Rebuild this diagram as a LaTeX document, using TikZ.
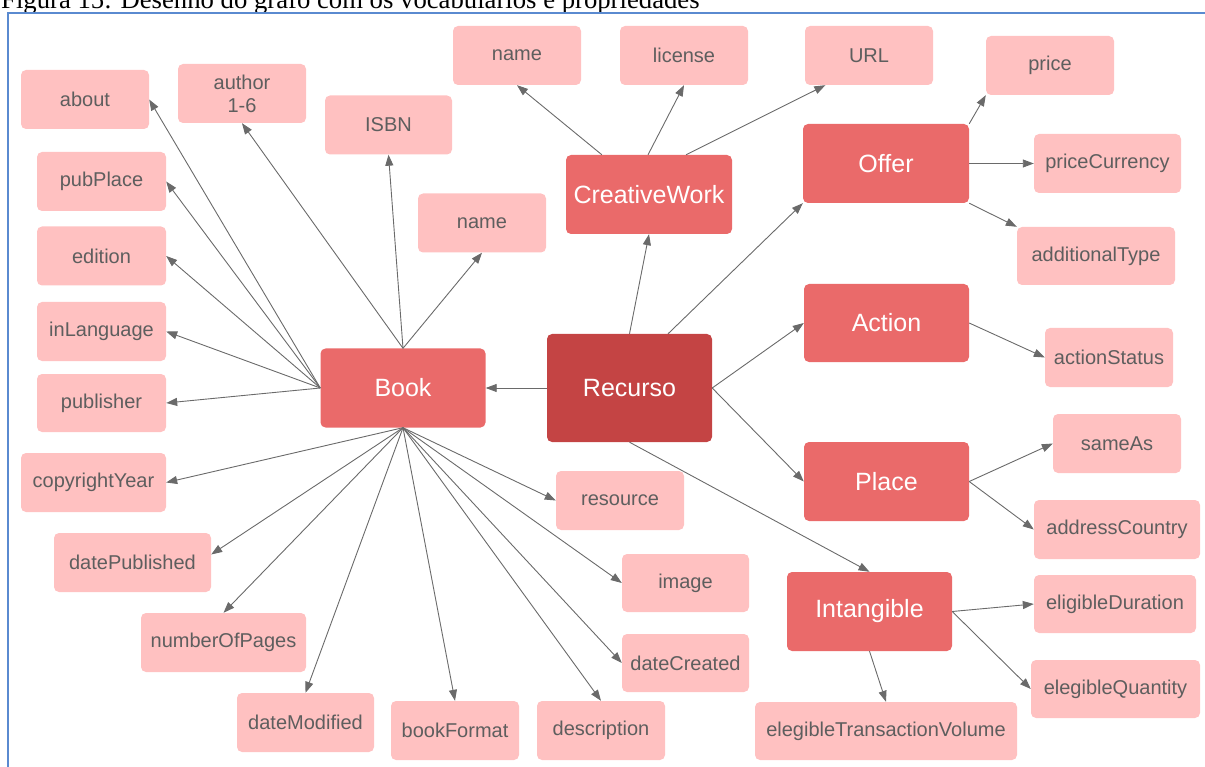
\documentclass[tikz,border=0pt]{standalone}
\usepackage{fontspec}
\setmainfont{Liberation Sans}
\newfontfamily\capfont{Liberation Serif}
\usetikzlibrary{arrows.meta,calc}
\definecolor{lightfill}{HTML}{FFC1C1}
\definecolor{darkfill}{HTML}{EA6A6A}
\definecolor{rootfill}{HTML}{C44444}
\definecolor{lighttext}{HTML}{5E5E5E}
\definecolor{edgecol}{HTML}{6A6A6A}
\definecolor{framecol}{HTML}{5A8AD0}
\tikzset{
  leafbox/.style={draw=none,fill=lightfill,rounded corners=5pt,minimum height=59pt,inner sep=0pt,
    text=lighttext,font=\fontsize{20}{23}\selectfont,align=center},
  classbox/.style={draw=none,fill=darkfill,rounded corners=5pt,minimum height=79pt,minimum width=165pt,inner sep=0pt,
    text=white,font=\fontsize{25}{28}\selectfont},
  rootbox/.style={classbox,fill=rootfill,minimum height=108pt},
  edge/.style={draw=edgecol,line width=0.9pt,-{Triangle[length=11pt,width=8pt]}}
}
\begin{document}
\begin{tikzpicture}[x=1pt,y=-1pt]
\useasboundingbox (0,0) rectangle (1205,767);
\begin{scope}
\clip (0,0) rectangle (1205,767);
\node[anchor=base west,inner sep=0pt,font=\capfont\fontsize{26.7}{30}\selectfont] (caption) at (1,9) {Figura 15: Desenho do grafo com os vocabulários e propriedades};
\draw[framecol,line width=1.6pt] (8,13) rectangle (1220,790);
\end{scope}

% class nodes
\node[classbox] (book) at (403,388) {Book};
\node[rootbox] (rec) at (629.5,388) {Recurso};
\node[classbox,minimum width=166pt] (cw) at (649,194.5) {CreativeWork};
\node[classbox,minimum width=166pt] (offer) at (886,163.5) {Offer};
\node[classbox,minimum height=78pt] (action) at (886.5,323) {Action};
\node[classbox] (place) at (886.5,481.5) {Place};
\node[classbox] (intang) at (869.5,611.5) {Intangible};

% leaf nodes
\node[leafbox,minimum width=128pt] (about) at (85,99.5) {about};
\node[leafbox,minimum width=128pt] (author) at (242,93.5) {author\\1-6};
\node[leafbox,minimum width=127pt] (isbn) at (388.5,125) {ISBN};
\node[leafbox,minimum width=128pt] (nameb) at (482,223) {name};
\node[leafbox,minimum width=128pt] (namec) at (517,55.5) {name};
\node[leafbox,minimum width=128pt] (license) at (684,55.5) {license};
\node[leafbox,minimum width=128pt] (url) at (869,55.5) {URL};
\node[leafbox,minimum width=128pt] (price) at (1050,65.5) {price};
\node[leafbox,minimum width=147pt] (pricecur) at (1107.5,163.5) {priceCurrency};
\node[leafbox,minimum width=158pt,minimum height=58pt] (addtype) at (1096,256) {additionalType};
\node[leafbox,minimum width=128pt] (actstatus) at (1109,357.5) {actionStatus};
\node[leafbox,minimum width=128pt] (sameas) at (1117,443.5) {sameAs};
\node[leafbox,minimum width=166pt] (addrc) at (1117,529.5) {addressCountry};
\node[leafbox,minimum width=162pt,minimum height=58pt] (eligd) at (1115,604) {eligibleDuration};
\node[leafbox,minimum width=169pt,minimum height=58pt] (elegq) at (1115.5,689) {elegibleQuantity};
\node[leafbox,minimum width=262pt,minimum height=58pt] (elegtv) at (886,731) {elegibleTransactionVolume};
\node[leafbox,minimum width=129pt] (pubplace) at (101.5,181.5) {pubPlace};
\node[leafbox,minimum width=129pt] (edition) at (101.5,256) {edition};
\node[leafbox,minimum width=129pt] (inlang) at (101.5,331.5) {inLanguage};
\node[leafbox,minimum width=129pt,minimum height=58pt] (publisher) at (101.5,403) {publisher};
\node[leafbox,minimum width=145pt] (copyr) at (93.5,482.5) {copyrightYear};
\node[leafbox,minimum width=157pt] (datepub) at (132.5,562.5) {datePublished};
\node[leafbox,minimum width=165pt] (numpages) at (223.5,642.5) {numberOfPages};
\node[leafbox,minimum width=137pt] (datemod) at (305.5,722.5) {dateModified};
\node[leafbox,minimum width=128pt] (bookformat) at (455,730.5) {bookFormat};
\node[leafbox,minimum width=128pt] (descr) at (601,730.5) {description};
\node[leafbox,minimum width=128pt] (resource) at (620,500.5) {resource};
\node[leafbox,minimum width=127pt,minimum height=58pt] (image) at (685.5,583) {image};
\node[leafbox,minimum width=127pt,minimum height=58pt] (datecr) at (685.5,663) {dateCreated};

% helper coordinates
\coordinate (cwA) at ($(cw.north west)!0.217!(cw.north east)$);
\coordinate (cwB) at ($(cw.north west)!0.494!(cw.north east)$);
\coordinate (cwC) at ($(cw.north west)!0.723!(cw.north east)$);
\coordinate (urlIn) at ($(url.south west)!0.16!(url.south east)$);
\coordinate (recOff) at ($(rec.north west)!0.733!(rec.north east)$);

% Book edges
\path[edge] (book.west) -- (about.east);
\path[edge] (book.north) -- (author.south);
\path[edge] (book.north) -- (isbn.south);
\path[edge] (book.north) -- (nameb.south);
\path[edge] (book.west) -- (pubplace.east);
\path[edge] (book.west) -- (edition.east);
\path[edge] (book.west) -- (inlang.east);
\path[edge] (book.west) -- (publisher.east);
\path[edge] (book.south) -- (copyr.east);
\path[edge] (book.south) -- ($(datepub.east)+(0,-8)$);
\path[edge] (book.south) -- (numpages.north);
\path[edge] (book.south) -- (datemod.north);
\path[edge] (book.south) -- (bookformat.north);
\path[edge] (book.south) -- (descr.north);
\path[edge] (book.south) -- (resource.west);
\path[edge] (book.south) -- (image.west);
\path[edge] (book.south) -- (datecr.west);

% Recurso edges
\path[edge] (rec.west) -- (book.east);
\path[edge] (rec.north) -- (cw.south);
\path[edge] (recOff) -- (offer.south west);
\path[edge] (rec.east) -- (action.west);
\path[edge] (rec.east) -- (place.west);
\path[edge] (rec.south) -- (intang.north);

% CreativeWork edges
\path[edge] (cwA) -- (namec.south);
\path[edge] (cwB) -- (license.south);
\path[edge] (cwC) -- (urlIn);

% Offer edges
\path[edge] (offer.north east) -- (price.south west);
\path[edge] (offer.east) -- (pricecur.west);
\path[edge] (offer.south east) -- (addtype.north west);

% Action, Place, Intangible edges
\path[edge] (action.east) -- (actstatus.west);
\path[edge] (place.east) -- (sameas.west);
\path[edge] (place.east) -- (addrc.west);
\path[edge] (intang.east) -- (eligd.west);
\path[edge] (intang.east) -- (elegq.west);
\path[edge] (intang.south) -- (elegtv.north);
\end{tikzpicture}
\end{document}
